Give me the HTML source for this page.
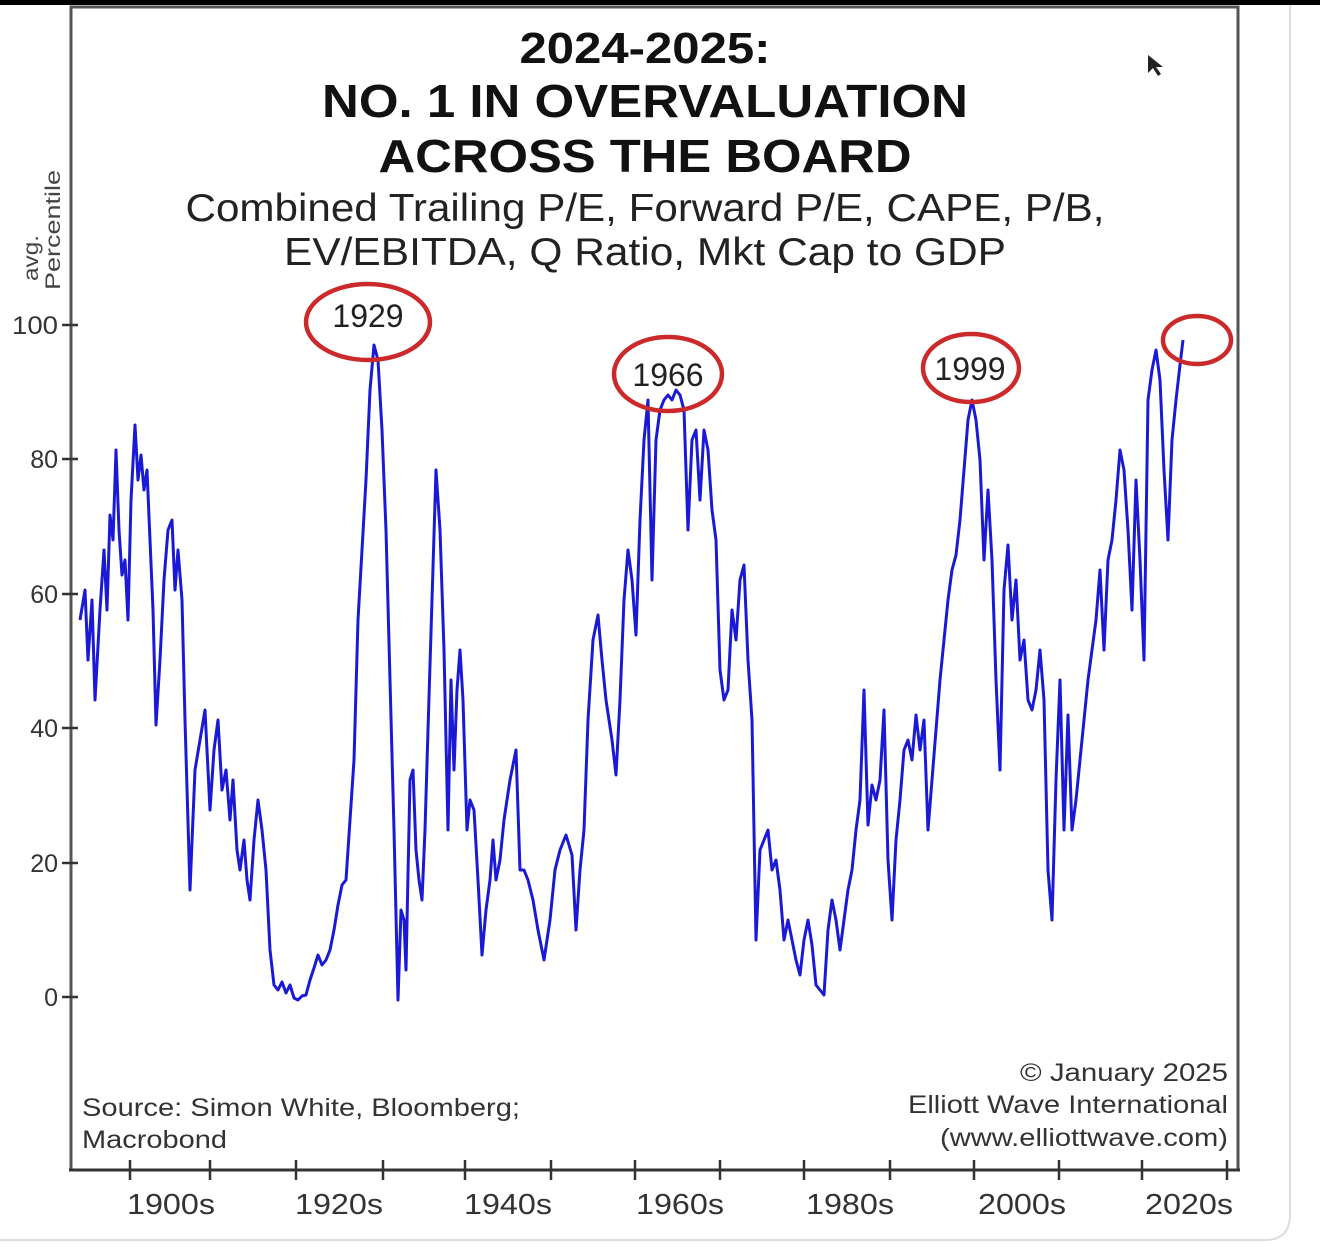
<!DOCTYPE html>
<html><head><meta charset="utf-8"><style>
html,body{margin:0;padding:0;background:#fff;}
svg{display:block;}
text{font-family:"Liberation Sans",sans-serif;}
</style></head><body>
<svg width="1320" height="1247" viewBox="0 0 1320 1247" xmlns="http://www.w3.org/2000/svg">
<rect x="0" y="0" width="1320" height="5" fill="#000"/>
<path d="M1290 5 V1215 Q1290 1240 1265 1240 H0" fill="none" stroke="#dcdcdc" stroke-width="2"/>
<path d="M71 1170 V7 H1238 V1170" fill="none" stroke="#555" stroke-width="3"/>
<line x1="69" y1="1170" x2="1240" y2="1170" stroke="#333" stroke-width="3"/>
<g stroke="#333" stroke-width="2.5">
<line x1="130" y1="1160" x2="130" y2="1180"/><line x1="210" y1="1160" x2="210" y2="1180"/>
<line x1="296" y1="1160" x2="296" y2="1180"/><line x1="383" y1="1160" x2="383" y2="1180"/>
<line x1="465" y1="1160" x2="465" y2="1180"/><line x1="551" y1="1160" x2="551" y2="1180"/>
<line x1="635" y1="1160" x2="635" y2="1180"/><line x1="720" y1="1160" x2="720" y2="1180"/>
<line x1="804" y1="1160" x2="804" y2="1180"/><line x1="890" y1="1160" x2="890" y2="1180"/>
<line x1="974" y1="1160" x2="974" y2="1180"/><line x1="1059" y1="1160" x2="1059" y2="1180"/>
<line x1="1142" y1="1160" x2="1142" y2="1180"/><line x1="1227" y1="1160" x2="1227" y2="1180"/>
<line x1="62" y1="325" x2="78" y2="325"/><line x1="62" y1="459" x2="78" y2="459"/>
<line x1="62" y1="594" x2="78" y2="594"/><line x1="62" y1="728" x2="78" y2="728"/>
<line x1="62" y1="863" x2="78" y2="863"/><line x1="62" y1="997" x2="78" y2="997"/>
</g>
<g font-size="25" fill="#333" text-anchor="end">
<text x="58" y="334" textLength="46" lengthAdjust="spacingAndGlyphs">100</text><text x="58" y="468">80</text><text x="58" y="603">60</text>
<text x="58" y="737">40</text><text x="58" y="872">20</text><text x="58" y="1006">0</text>
</g>
<g font-size="21" fill="#444" text-anchor="middle">
<text transform="translate(38,258) rotate(-90)" textLength="46" lengthAdjust="spacingAndGlyphs">avg.</text>
<text transform="translate(60,230) rotate(-90)" textLength="120" lengthAdjust="spacingAndGlyphs">Percentile</text>
</g>
<g font-size="29" fill="#333" text-anchor="middle">
<text x="171" y="1214" textLength="88" lengthAdjust="spacingAndGlyphs">1900s</text>
<text x="339" y="1214" textLength="88" lengthAdjust="spacingAndGlyphs">1920s</text>
<text x="508" y="1214" textLength="88" lengthAdjust="spacingAndGlyphs">1940s</text>
<text x="680" y="1214" textLength="88" lengthAdjust="spacingAndGlyphs">1960s</text>
<text x="850" y="1214" textLength="88" lengthAdjust="spacingAndGlyphs">1980s</text>
<text x="1022" y="1214" textLength="88" lengthAdjust="spacingAndGlyphs">2000s</text>
<text x="1189" y="1214" textLength="88" lengthAdjust="spacingAndGlyphs">2020s</text>
</g>
<g text-anchor="middle" fill="#111">
<text x="645" y="63" font-size="44" font-weight="bold" textLength="251" lengthAdjust="spacingAndGlyphs">2024-2025:</text>
<text x="645" y="117" font-size="46" font-weight="bold" textLength="646" lengthAdjust="spacingAndGlyphs">NO. 1 IN OVERVALUATION</text>
<text x="645" y="172" font-size="46" font-weight="bold" textLength="533" lengthAdjust="spacingAndGlyphs">ACROSS THE BOARD</text>
<text x="645" y="221" font-size="39" fill="#222" textLength="919" lengthAdjust="spacingAndGlyphs">Combined Trailing P/E, Forward P/E, CAPE, P/B,</text>
<text x="645" y="265" font-size="39" fill="#222" textLength="722" lengthAdjust="spacingAndGlyphs">EV/EBITDA, Q Ratio, Mkt Cap to GDP</text>
</g>
<g font-size="25" fill="#333">
<text x="82" y="1116" textLength="438" lengthAdjust="spacingAndGlyphs">Source: Simon White, Bloomberg;</text>
<text x="82" y="1148" textLength="145" lengthAdjust="spacingAndGlyphs">Macrobond</text>
<g text-anchor="end">
<text x="1228" y="1081" textLength="208" lengthAdjust="spacingAndGlyphs">© January 2025</text>
<text x="1228" y="1113" textLength="320" lengthAdjust="spacingAndGlyphs">Elliott Wave International</text>
<text x="1228" y="1146" textLength="288" lengthAdjust="spacingAndGlyphs">(www.elliottwave.com)</text>
</g></g>
<path d="M1148 55 l0 18 l5 -5 l5 8 l3 -2 l-5 -7 l7 0 z" fill="#222"/>
<polyline fill="none" stroke="#1a1ad6" stroke-width="3" stroke-linejoin="round" points="80,620 85,590 88,660 92,600 95,700 100,610 104,550 107,610 110,515 113,540 116,450 119,530 122,575 125,560 128,620 131,500 135,425 138,480 141,455 144,490 147,470 150,540 153,610 156,725 160,660 164,580 168,530 172,520 175,590 178,550 182,600 185,720 190,890 195,770 200,740 205,710 210,810 214,750 218,720 222,790 226,770 230,820 233,780 237,850 240,870 244,840 247,880 250,900 254,840 258,800 262,830 266,870 270,950 274,985 278,990 282,982 286,993 290,985 294,998 298,1000 302,996 306,995 310,980 314,968 318,955 322,965 326,960 330,950 334,930 338,905 342,885 346,880 350,820 354,760 358,620 362,550 366,480 370,390 374,345 378,360 382,430 386,530 390,680 394,830 398,1000 401,910 404,920 406,970 410,780 413,770 416,850 419,880 422,900 425,830 428,730 432,600 436,470 440,530 444,650 448,830 451,680 454,770 457,690 460,650 463,700 467,830 470,800 474,810 478,880 482,955 486,910 490,880 493,840 496,880 500,860 504,820 510,780 516,750 520,870 524,870 528,880 533,900 538,930 544,960 550,920 555,870 560,850 566,835 572,855 576,930 580,870 584,830 588,720 593,640 598,615 602,660 606,700 612,740 616,775 620,700 624,600 628,550 632,580 636,635 640,520 644,440 648,400 652,580 656,440 660,410 664,400 668,395 672,400 676,390 680,395 684,410 688,530 692,440 696,430 700,500 704,430 708,450 712,510 716,540 720,670 724,700 728,690 732,610 736,640 740,580 744,565 748,660 752,720 756,940 760,850 764,840 768,830 772,870 776,860 780,890 784,940 788,920 792,940 796,960 800,975 804,940 808,920 812,945 816,985 820,990 824,995 828,930 832,900 836,920 840,950 844,920 848,890 852,870 856,830 860,800 864,690 868,825 872,785 876,800 880,780 884,710 888,860 892,920 896,840 900,800 904,750 908,740 912,760 916,715 920,750 924,720 928,830 932,780 936,730 940,680 944,640 948,600 952,570 956,555 960,520 964,470 968,420 972,400 976,420 980,460 984,560 988,490 992,560 996,680 1000,770 1004,590 1008,545 1012,620 1016,580 1020,660 1024,640 1028,700 1032,710 1036,690 1040,650 1044,700 1048,870 1052,920 1056,780 1060,680 1064,830 1068,715 1072,830 1076,800 1080,760 1084,720 1088,680 1092,650 1096,620 1100,570 1104,650 1108,560 1112,540 1116,500 1120,450 1124,470 1128,530 1132,610 1136,480 1140,560 1144,660 1148,400 1152,370 1156,350 1160,380 1164,470 1168,540 1172,440 1176,400 1180,365 1183,340"/>
<g fill="none" stroke="#cc2a2a" stroke-width="4.5">
<ellipse cx="368" cy="322" rx="62" ry="38"/>
<ellipse cx="668" cy="374" rx="54" ry="37"/>
<ellipse cx="971" cy="368" rx="48" ry="34"/>
<ellipse cx="1197" cy="340" rx="34" ry="24"/>
</g>
<g font-size="32" fill="#222" text-anchor="middle">
<text x="368" y="327">1929</text><text x="668" y="386">1966</text><text x="970" y="380">1999</text>
</g>
</svg>
</body></html>
